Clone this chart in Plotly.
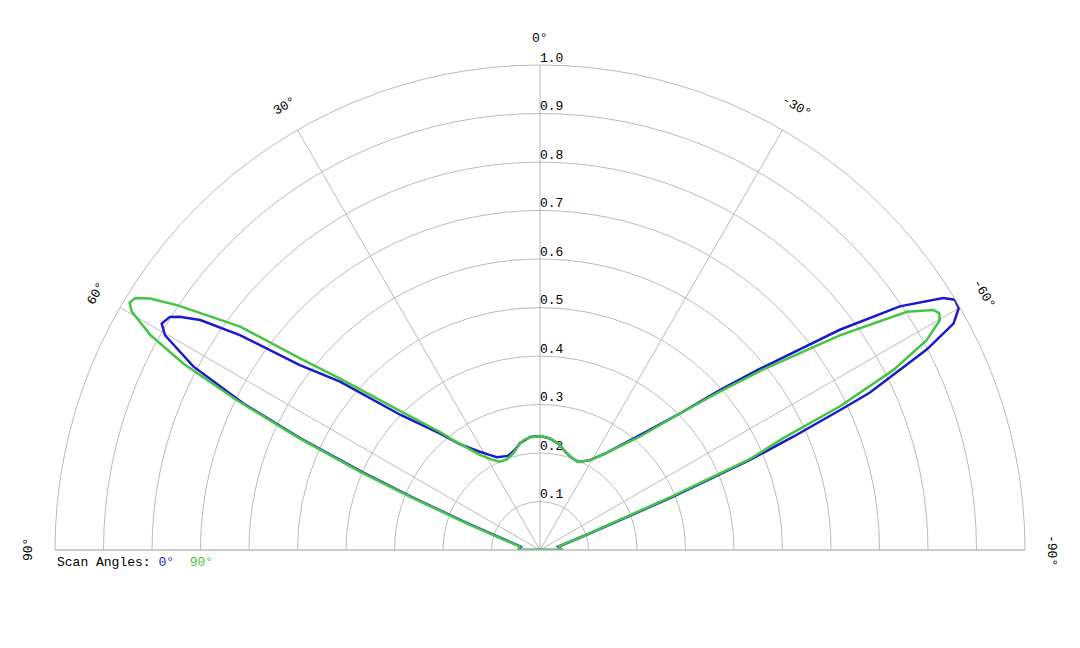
import numpy as np
import plotly.graph_objects as go

# scan 0 deg (blue) - angle in degrees, 0 at top, positive to the left
theta_0 = [-90, -90, -79.8, -71.5, -68.2, -66.8, -65.9, -65.0, -64.5, -62.6, -61.3,
           -60.0, -58.9, -58.0, -55.9, -53.7, -50.5, -48.4, -45.7, -41.0, -34.0,
           -29.1, -23.4, -19.0, -15.4, -10.0, -5.1, 0, 5.0, 10.6, 14.0, 18.8, 24.9,
           28.0, 32.0, 37.3, 40.5, 45.9, 49.9, 52.4, 54.4, 55.9, 57.1, 57.8, 59.1,
           60.2, 62.1, 63.7, 65.0, 66.3, 67.5, 69.8, 80.0, 90, 90]
r_0 = [0, 0.045, 0.038, 0.109, 0.296, 0.471, 0.572, 0.683, 0.753, 0.898, 0.972,
       0.997, 0.999, 0.980, 0.896, 0.767, 0.587, 0.497, 0.403, 0.314, 0.240,
       0.212, 0.198, 0.201, 0.207, 0.222, 0.231, 0.235, 0.234, 0.224, 0.213, 0.205, 0.211,
       0.222, 0.240, 0.275, 0.315, 0.400, 0.539, 0.625, 0.761, 0.846, 0.885, 0.902, 0.909,
       0.891, 0.809, 0.682, 0.546, 0.400, 0.288, 0.160, 0.040, 0.045, 0]

# scan 90 deg (green)
theta_90 = [-90, -90, -79.6, -71.2, -67.9, -66.6, -65.3, -64.4, -63.0, -61.5, -60.1,
            -59.3, -58.6, -57.0, -54.4, -51.0, -48.6, -45.7, -41.4, -34.0, -29.1,
            -23.4, -19.0, -15.4, -10.0, -5.1, 0, 5.0, 8.0, 11.0, 15.4, 20.0, 24.4,
            28.0, 32.3, 38.0, 40.3, 45.2, 49.4, 51.4, 53.3, 56.0, 57.2, 58.1, 58.9,
            59.7, 61.1, 62.4, 63.7, 65.05, 66.5, 67.7, 70.0, 80.6, 90, 90]
r_90 = [0, 0.047, 0.038, 0.110, 0.295, 0.470, 0.552, 0.686, 0.818, 0.907, 0.951,
        0.957, 0.950, 0.902, 0.760, 0.590, 0.494, 0.403, 0.312, 0.240, 0.212,
        0.198, 0.201, 0.207, 0.222, 0.231, 0.235, 0.233, 0.230, 0.222, 0.207, 0.199, 0.200,
        0.211, 0.232, 0.285, 0.319, 0.407, 0.543, 0.633, 0.771, 0.903, 0.957, 0.983, 0.988,
        0.975, 0.918, 0.830, 0.697, 0.552, 0.405, 0.290, 0.161, 0.042, 0.045, 0]

ring_vals = [0.1, 0.2, 0.3, 0.4, 0.5, 0.6, 0.7, 0.8, 0.9, 1.0]
radial_labels = ["0.1", "0.2", "0.3", "0.4", "0.5", "0.6", "0.7", "0.8", "0.9", "1.0"]
angle_ticks = [90, 60, 30, 0, -30, -60, -90]
angle_labels = ["90°", "60°", "30°", "0°", "-30°", "-60°", "-90°"]

BLUE = "#1a1acc"
GREEN = "#44c444"
GRID = "#bbbbbb"
FONT = "Liberation Mono, Courier New, monospace"

W, H = 1080, 648
# page body adds 8px, so the margins are shifted to compensate
ML, MR, MT, MB = 47, 63, 57, 106
R = H - MT - MB  # radius of the half disc in px

fig = go.Figure()

# radial tick labels along the 0 deg spoke
fig.add_trace(go.Scatterpolar(
    r=ring_vals,
    theta=[0] * len(ring_vals),
    mode='text',
    text=radial_labels,
    textposition='top right',
    textfont=dict(family=FONT, size=13, color='black'),
    cliponaxis=False,
    hoverinfo='skip',
    showlegend=False
))

fig.add_trace(go.Scatterpolar(
    r=r_0, theta=theta_0, mode='lines',
    line=dict(color=BLUE, width=2.5),
    name='0°', showlegend=False
))
fig.add_trace(go.Scatterpolar(
    r=r_90, theta=theta_90, mode='lines',
    line=dict(color=GREEN, width=2.5),
    name='90°', showlegend=False
))

# angular labels, rotated along the circle
D = R + 27
annotations = []
for ang, lab in zip(angle_ticks, angle_labels):
    a = np.deg2rad(ang)
    annotations.append(dict(
        x=0.5, y=0, xref='paper', yref='paper',
        xshift=-D * np.sin(a), yshift=D * np.cos(a),
        text=lab, showarrow=False, textangle=-ang,
        xanchor='center', yanchor='middle',
        font=dict(family=FONT, size=13, color='black')
    ))

annotations.append(dict(
    x=0, y=0, xref='paper', yref='paper', xshift=0, yshift=-3,
    xanchor='left', yanchor='top', showarrow=False, align='left',
    text="Scan Angles:\u00a0<span style='color:%s'>0°</span>\u00a0\u00a0<span style='color:%s'>90°</span>" % (BLUE, GREEN),
    font=dict(family=FONT, size=13, color='black')
))

fig.update_layout(
    width=W, height=H,
    margin=dict(l=ML, r=MR, t=MT, b=MB),
    paper_bgcolor='white',
    showlegend=False,
    polar=dict(
        domain=dict(x=[0, 1], y=[0, 1]),
        sector=[0, 180],
        bgcolor='white',
        angularaxis=dict(
            rotation=90, direction='counterclockwise',
            tickmode='array', tickvals=angle_ticks,
            showticklabels=False, ticks='',
            showgrid=True, gridcolor=GRID, gridwidth=1,
            showline=True, linecolor=GRID, linewidth=1
        ),
        radialaxis=dict(
            range=[0, 1], tickmode='array', tickvals=ring_vals,
            showticklabels=False, ticks='', showline=False,
            showgrid=True, gridcolor=GRID, gridwidth=1
        )
    ),
    annotations=annotations
)

fig.write_html("out.html")
